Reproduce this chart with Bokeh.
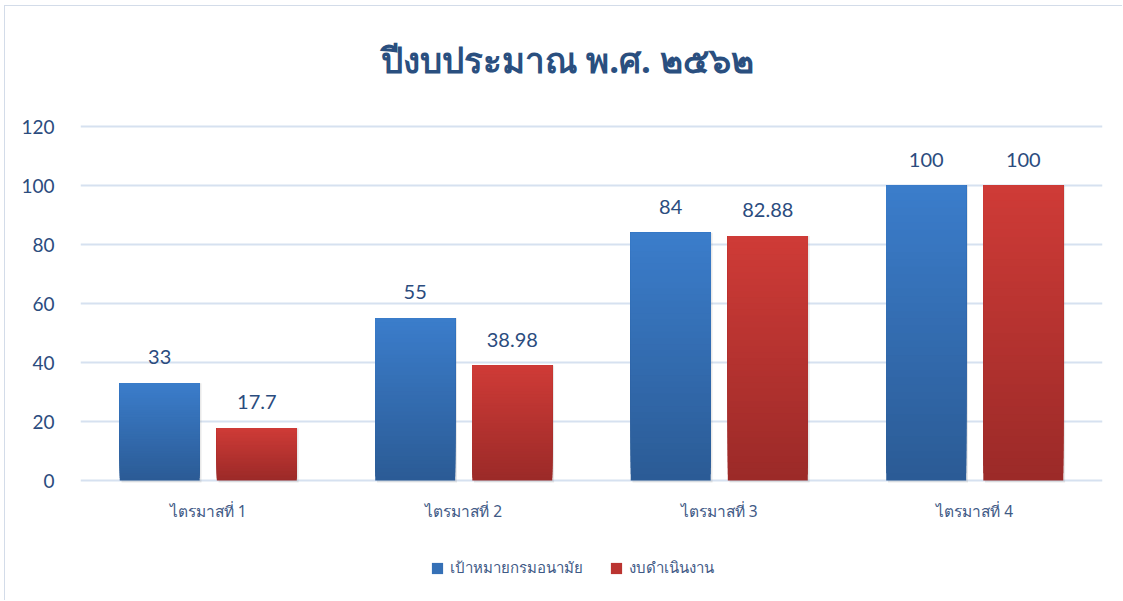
from bokeh.plotting import figure
from bokeh.models import (ColumnDataSource, FixedTicker, Label, Legend, LegendItem, Range1d)
from bokeh.core.properties import value
from bokeh.embed import file_html
from bokeh.resources import INLINE

title_text = "ปีงบประมาณ พ.ศ. ๒๕๖๒"
categories = ["ไตรมาสที่ 1", "ไตรมาสที่ 2", "ไตรมาสที่ 3", "ไตรมาสที่ 4"]
series_names = ["เป้าหมายกรมอนามัย", "งบดำเนินงาน"]
target = [33, 55, 84, 100]
budget = [17.7, 38.98, 82.88, 100]
label_target = ["33", "55", "84", "100"]
label_budget = ["17.7", "38.98", "82.88", "100"]
y_ticks = [0, 20, 40, 60, 80, 100, 120]

BLUE_TOP, BLUE_BOT = (0x3b, 0x7d, 0xcb), (0x2b, 0x5b, 0x95)
RED_TOP, RED_BOT = (0xcf, 0x3b, 0x37), (0x9b, 0x2a, 0x28)
TXT = "#2b4c7e"
THAI = "Noto Sans"

OX, OY = 5, 6          # canvas offset inside the thin chart border
W, H = 1118, 595
Y0, Y120 = 480 - OY, 126 - OY   # canvas pixel rows of 0 and 120
PXU = (Y0 - Y120) / 120.0
p = figure(width=W, height=H, output_backend="svg", toolbar_location=None,
           x_range=Range1d(0, 4),
           y_range=Range1d(-(H - Y0) / PXU, 120 + Y120 / PXU),
           min_border_left=80 - OX, min_border_right=W - (1102 - OX),
           min_border_top=0, min_border_bottom=0)
p.margin = (OY - 1, 0, 0, OX - 1)
p.styles = {"border-left": "1px solid #d3dce9", "border-top": "1px solid #d3dce9"}
p.outline_line_color = None
p.background_fill_color = "white"
p.border_fill_color = "white"
p.xaxis.visible = False

bw = 0.313
off = 0.19
N = 40


def mix(a, b, t):
    return "#%02x%02x%02x" % tuple(int(round(a[i] + (b[i] - a[i]) * t)) for i in range(3))


def grad_bars(vals, dx, top_c, bot_c):
    xs, bots, tops, cols = [], [], [], []
    for k in range(N):
        for i, v in enumerate(vals):
            xs.append(i + 0.5 + dx)
            bots.append(v * k / N)
            tops.append(v)
            cols.append(mix(bot_c, top_c, (k + 0.5) / N))
    return ColumnDataSource(dict(x=xs, bottom=bots, top=tops, color=cols))


xc = [i + 0.5 for i in range(len(categories))]
# soft shadow
for dx, vals in ((-off, target), (off, budget)):
    sh = ColumnDataSource(dict(x=[c + dx + 0.007 for c in xc], top=vals))
    p.vbar(x="x", top="top", bottom=-0.7, width=bw, source=sh,
           fill_color="#8a8a8a", fill_alpha=0.2, line_color=None)

rb = p.vbar(x="x", bottom="bottom", top="top", width=bw, fill_color="color",
            line_color=None, source=grad_bars(target, -off, BLUE_TOP, BLUE_BOT))
rr = p.vbar(x="x", bottom="bottom", top="top", width=bw, fill_color="color",
            line_color=None, source=grad_bars(budget, off, RED_TOP, RED_BOT))

# data labels
lab = ColumnDataSource(dict(x=[c - off for c in xc] + [c + off for c in xc],
                            y=target + budget, t=label_target + label_budget))
p.text(x="x", y="y", text="t", source=lab, text_align="center",
       text_baseline="middle", y_offset=-26, text_color=TXT,
       text_font=value("Lato"), text_font_size="20px")

# category labels under the zero line
cat = ColumnDataSource(dict(x=xc, y=[0] * len(xc), t=categories))
p.text(x="x", y="y", text="t", source=cat, text_align="center",
       text_baseline="middle", y_offset=30, text_color="#3f5a86",
       text_font=value(THAI), text_font_size="15.5px")

p.yaxis.ticker = FixedTicker(ticks=y_ticks)
p.yaxis.major_label_text_font = "Lato"
p.yaxis.major_label_text_font_size = "19px"
p.yaxis.major_label_text_color = TXT
p.yaxis.major_label_standoff = 20
p.yaxis.axis_line_color = None
p.yaxis.major_tick_line_color = None
p.yaxis.minor_tick_line_color = None

p.xgrid.grid_line_color = None
p.ygrid.ticker = FixedTicker(ticks=y_ticks)
p.ygrid.grid_line_color = "#d6e1f0"
p.ygrid.grid_line_width = 2

# title
p.add_layout(Label(x=(567 - 80) / 255.5, y=(480 - 59) / PXU, text=title_text,
                   text_align="center", text_baseline="middle",
                   text_font=THAI, text_font_style="bold",
                   text_font_size="35px", text_color="#2a4f7f"))

# legend (glyph colour taken from a mid strip of the gradient)
mid = int(N * 0.6) * len(categories)
legend = Legend(items=[LegendItem(label=series_names[0], renderers=[rb], index=mid),
                       LegendItem(label=series_names[1], renderers=[rr], index=mid)],
                orientation="horizontal", location=(350, (OY + H) - 580),
                label_text_font=THAI, label_text_font_size="15px",
                label_text_color="#3f5a86", glyph_width=14, glyph_height=14,
                spacing=26, border_line_color=None, background_fill_alpha=0,
                margin=0, padding=4, label_standoff=6)
p.add_layout(legend, "center")

open("out.html", "w").write(file_html(p, INLINE))
